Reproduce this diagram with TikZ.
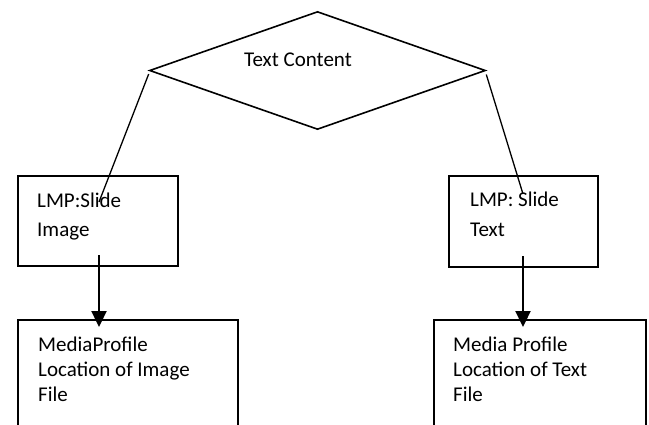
\documentclass[tikz,border=0pt]{standalone}
\usepackage{fontspec}
\setmainfont{Carlito}
\usetikzlibrary{shapes.geometric,arrows.meta}
\begin{document}
\begin{tikzpicture}[x=1pt,y=-1pt,
  box/.style={draw,line width=2pt,rectangle,inner sep=0pt,anchor=north west},
  txt/.style={inner sep=0pt,anchor=base west,font=\fontsize{21}{25}\selectfont},
  link/.style={line width=1.3pt},
  flow/.style={line width=2.3pt,-{Triangle[width=15pt,length=16pt]}}]
\useasboundingbox (0,0) rectangle (649,424);
\clip (0,0) rectangle (649,424);
\fill[white] (0,0) rectangle (649,424);
% decision
\node[diamond,draw,line width=1.6pt,inner sep=0pt,minimum width=336pt,minimum height=118pt] (dia) at (317.5,70.5) {};
\node[txt] (dtxt) at (244,66.7) {Text Content};
% boxes
\node[box,minimum width=160pt,minimum height=90pt] (img) at (17,175) {};
\node[box,minimum width=149pt,minimum height=91pt] (txtb) at (448,175) {};
\node[box,minimum width=220pt,minimum height=120pt] (imgfile) at (17,319) {};
\node[box,minimum width=212pt,minimum height=120pt] (txtfile) at (433,319) {};
% labels
\node[txt] (l1) at (37,207.5) {LMP:Slide};
\node[txt] (l2) at (37,236.5) {Image};
\node[txt] (r1) at (470,206.7) {LMP: Slide};
\node[txt] (r2) at (470,236.5) {Text};
\node[txt] (l3) at (38,351.5) {MediaProfile};
\node[txt] (l4) at (38,376.5) {Location of Image};
\node[txt] (l5) at (38,401.5) {File};
\node[txt] (r3) at (453,351) {Media Profile};
\node[txt] (r4) at (453,376.5) {Location of Text};
\node[txt] (r5) at (453,401.5) {File};
% connectors
\coordinate (ls) at ([yshift=-3.5pt]dia.west);
\coordinate (le) at (99,202);
\coordinate (rs) at ([yshift=-4pt]dia.east);
\coordinate (re) at (523,194);
\draw[link] (ls) -- (le);
\draw[link] (rs) -- (re);
\coordinate (a1) at (99,255);
\coordinate (a2) at (523,256);
\draw[flow] (a1) -- ([yshift=-8pt]a1 |- imgfile.north);
\draw[flow] (a2) -- ([yshift=-8pt]a2 |- txtfile.north);
\end{tikzpicture}
\end{document}
